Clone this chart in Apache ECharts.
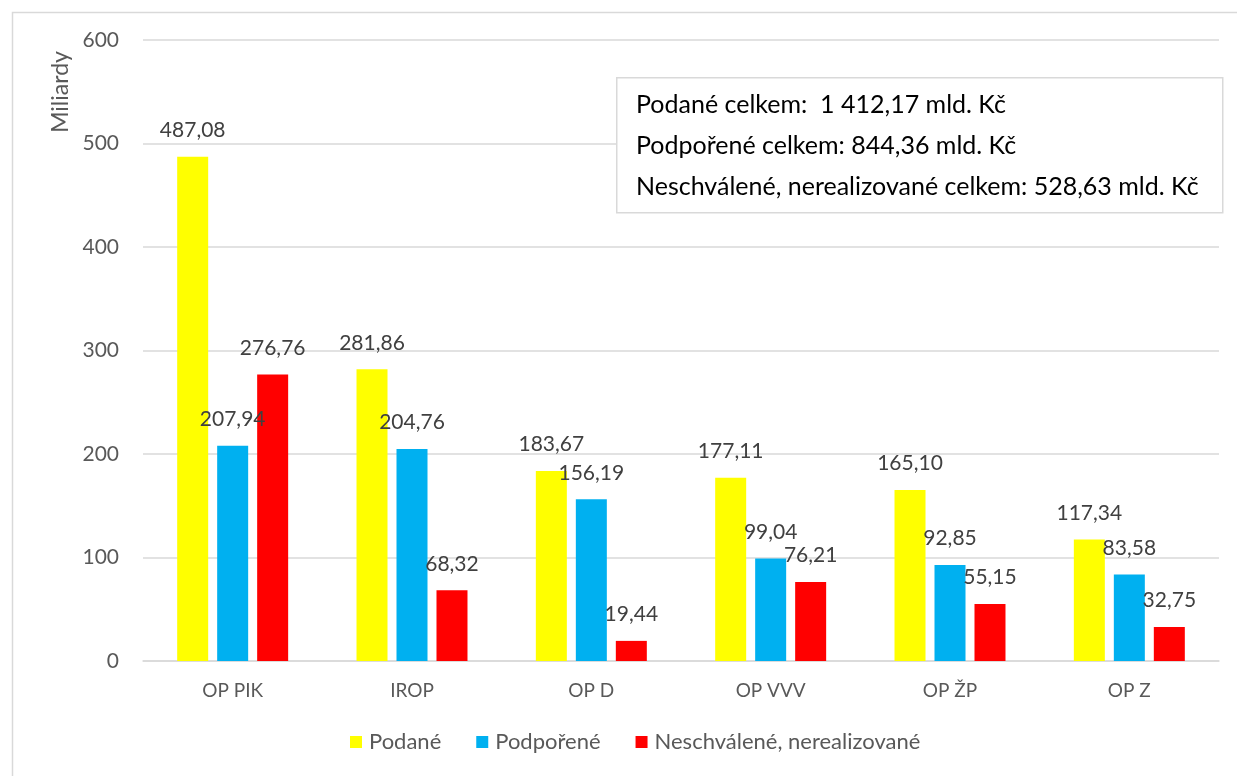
<!DOCTYPE html>
<html>
<head>
<meta charset="utf-8">
<script src="https://cdn.jsdelivr.net/npm/echarts@6/dist/echarts.min.js"></script>
<style>
  html, body { margin: 0; padding: 0; background: #fff; }
  #chart { width: 1237px; height: 776px; }
</style>
</head>
<body>
<div id="chart"></div>
<script>
// data
var categories = ['OP PIK', 'IROP', 'OP D', 'OP VVV', 'OP ŽP', 'OP Z'];
var podane = [487.08, 281.86, 183.67, 177.11, 165.10, 117.34];
var podporene = [207.94, 204.76, 156.19, 99.04, 92.85, 83.58];
var neschvalene = [276.76, 68.32, 19.44, 76.21, 55.15, 32.75];
var seriesNames = ['Podané', 'Podpořené', 'Neschválené, nerealizované'];
var boxLines = [
  'Podané celkem:  1 412,17 mld. Kč',
  'Podpořené celkem: 844,36 mld. Kč',
  'Neschválené, nerealizované celkem: 528,63 mld. Kč'
];

var font = 'Lato, "Open Sans", sans-serif';

function fmt(v) {
  return v.toFixed(2).replace('.', ',');
}

var labelOpt = {
  show: true,
  position: 'top',
  distance: 16,
  color: '#404040',
  fontSize: 21,
  fontFamily: font,
  formatter: function (p) { return fmt(p.value); }
};

var chart = echarts.init(document.getElementById('chart'));
chart.setOption({
  animation: false,
  backgroundColor: '#fff',
  color: ['#FFFF00', '#00B0F0', '#FF0000'],
  grid: { left: 143, right: 18, top: 40, bottom: 115, outerBoundsMode: 'none', containLabel: false },
  legend: {
    bottom: 18,
    left: 345,
    itemWidth: 12,
    itemHeight: 12,
    itemGap: 35,
    icon: 'rect',
    textStyle: { color: '#595959', fontSize: 22, fontFamily: font, padding: [0, 0, 0, 2] },
    data: seriesNames
  },
  xAxis: {
    type: 'category',
    data: categories,
    axisLine: { lineStyle: { color: '#d9d9d9', width: 1.5 } },
    axisTick: { show: false },
    axisLabel: { color: '#595959', fontSize: 19, fontFamily: font, margin: 20 }
  },
  yAxis: {
    type: 'value',
    min: 0,
    max: 600,
    interval: 100,
    axisLine: { show: false },
    axisTick: { show: false },
    splitLine: { lineStyle: { color: '#d9d9d9', width: 1.5 } },
    axisLabel: { color: '#595959', fontSize: 21, fontFamily: font, margin: 24 }
  },
  series: [
    { name: seriesNames[0], type: 'bar', data: podane, barWidth: 31, barGap: '29%', label: labelOpt },
    { name: seriesNames[1], type: 'bar', data: podporene, barWidth: 31, barGap: '29%', label: labelOpt },
    { name: seriesNames[2], type: 'bar', data: neschvalene, barWidth: 31, barGap: '29%', label: labelOpt }
  ],
  graphic: [
    {
      type: 'rect',
      left: 10, top: 10,
      shape: { width: 1260, height: 800 },
      style: { fill: 'none', stroke: '#d9d9d9', lineWidth: 1.5 },
      silent: true
    },
    {
      type: 'text',
      x: 61, y: 92,
      rotation: Math.PI / 2,
      style: {
        text: 'Miliardy', fill: '#595959', fontSize: 23, fontFamily: font,
        align: 'center', verticalAlign: 'middle'
      }
    },
    {
      type: 'rect',
      left: 616, top: 77,
      shape: { width: 606, height: 135 },
      style: { fill: '#fff', stroke: '#d9d9d9', lineWidth: 1.5 },
      z: 10
    },
    {
      type: 'text',
      left: 636, top: 92,
      style: { text: boxLines[0], fill: '#000', fontSize: 25, fontFamily: font },
      z: 11
    },
    {
      type: 'text',
      left: 636, top: 133,
      style: { text: boxLines[1], fill: '#000', fontSize: 25, fontFamily: font },
      z: 11
    },
    {
      type: 'text',
      left: 636, top: 174,
      style: { text: boxLines[2], fill: '#000', fontSize: 25, fontFamily: font },
      z: 11
    }
  ]
});
</script>
</body>
</html>
